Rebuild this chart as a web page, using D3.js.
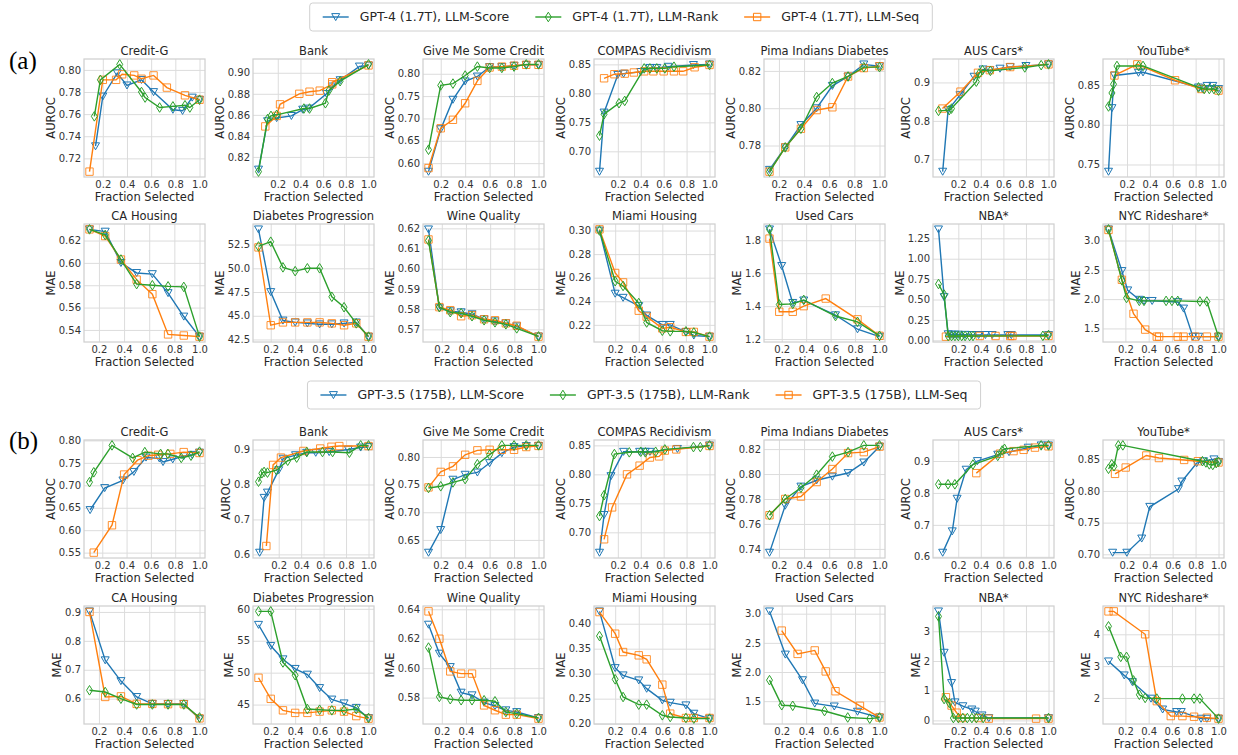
<!DOCTYPE html>
<html><head><meta charset="utf-8">
<script src="https://cdn.jsdelivr.net/npm/d3@7"></script>
<style>body{margin:0;background:#fff;} svg{display:block;font-family:"DejaVu Sans",sans-serif;}</style>
</head><body><svg id="c" width="1238" height="755"></svg>
<script>
// ---------- labels ----------
const namesGPT4 = ["GPT-4 (1.7T), LLM-Score","GPT-4 (1.7T), LLM-Rank","GPT-4 (1.7T), LLM-Seq"];
const namesGPT35 = ["GPT-3.5 (175B), LLM-Score","GPT-3.5 (175B), LLM-Rank","GPT-3.5 (175B), LLM-Seq"];
const titlesCls = ["Credit-G","Bank","Give Me Some Credit","COMPAS Recidivism","Pima Indians Diabetes","AUS Cars*","YouTube*"];
const titlesReg = ["CA Housing","Diabetes Progression","Wine Quality","Miami Housing","Used Cars","NBA*","NYC Rideshare*"];
const xTickLabels = ["0.2","0.4","0.6","0.8","1.0"];
const xLabel = "Fraction Selected";
const rowYLabels = ["AUROC","MAE","AUROC","MAE"];
const panelTags = ["(a)","(b)"];
const colors = ["#1f77b4","#2ca02c","#ff7f0e"];

// ---------- y tick labels ----------
const yt_a_cls = [["0.72","0.74","0.76","0.78","0.80"],["0.82","0.84","0.86","0.88","0.90"],["0.60","0.65","0.70","0.75","0.80"],["0.70","0.75","0.80","0.85"],["0.78","0.80","0.82"],["0.7","0.8","0.9"],["0.75","0.80","0.85"]];
const yt_a_reg = [["0.54","0.56","0.58","0.60","0.62"],["42.5","45.0","47.5","50.0","52.5"],["0.57","0.58","0.59","0.60","0.61","0.62"],["0.22","0.24","0.26","0.28","0.30"],["1.2","1.4","1.6","1.8"],["0.00","0.25","0.50","0.75","1.00","1.25"],["1.5","2.0","2.5","3.0"]];
const yt_b_cls = [["0.55","0.60","0.65","0.70","0.75","0.80"],["0.6","0.7","0.8","0.9"],["0.65","0.70","0.75","0.80"],["0.70","0.75","0.80","0.85"],["0.74","0.76","0.78","0.80","0.82"],["0.6","0.7","0.8","0.9"],["0.70","0.75","0.80","0.85"]];
const yt_b_reg = [["0.6","0.7","0.8","0.9"],["45","50","55","60"],["0.58","0.60","0.62","0.64"],["0.20","0.25","0.30","0.35","0.40"],["1.5","2.0","2.5","3.0"],["0","1","2","3"],["2","3","4"]];

// ---------- (a) GPT-4, classification (AUROC) ----------
const a_cg_score = [[0.14,0.731],[0.2,0.776],[0.32,0.797],[0.4,0.786],[0.52,0.791],[0.62,0.78],[0.78,0.764],[0.86,0.763],[0.94,0.775],[1.0,0.773]];
const a_cg_rank = [[0.13,0.758],[0.18,0.791],[0.34,0.805],[0.52,0.78],[0.55,0.775],[0.67,0.766],[0.78,0.767],[0.88,0.768],[0.92,0.766],[1.0,0.773]];
const a_cg_seq = [[0.09,0.708],[0.2,0.791],[0.31,0.791],[0.36,0.796],[0.46,0.795],[0.52,0.792],[0.62,0.795],[0.73,0.784],[0.88,0.777],[1.0,0.773]];
const a_bank_score = [[0.03,0.808],[0.11,0.854],[0.19,0.857],[0.32,0.859],[0.42,0.865],[0.47,0.866],[0.63,0.880],[0.68,0.887],[0.75,0.893],[0.92,0.906],[1.0,0.907]];
const a_bank_rank = [[0.03,0.806],[0.11,0.856],[0.14,0.859],[0.19,0.860],[0.43,0.866],[0.48,0.866],[0.62,0.871],[0.65,0.883],[0.75,0.892],[1.0,0.908]];
const a_bank_seq = [[0.09,0.849],[0.19,0.859],[0.22,0.870],[0.39,0.880],[0.48,0.882],[0.57,0.883],[0.68,0.889],[0.68,0.891],[1.0,0.907]];
const a_gmsc_score = [[0.1,0.581],[0.2,0.676],[0.3,0.742],[0.4,0.783],[0.5,0.794],[0.6,0.815],[0.7,0.815],[0.8,0.818],[0.9,0.82],[1.0,0.82]];
const a_gmsc_rank = [[0.1,0.630],[0.2,0.774],[0.3,0.778],[0.4,0.796],[0.5,0.816],[0.6,0.813],[0.7,0.813],[0.8,0.816],[0.9,0.821],[1.0,0.821]];
const a_gmsc_seq = [[0.1,0.589],[0.2,0.678],[0.3,0.697],[0.4,0.734],[0.5,0.784],[0.6,0.814],[0.7,0.816],[0.8,0.818],[0.9,0.82],[1.0,0.82]];
const a_compas_score = [[0.04,0.665],[0.08,0.767],[0.2,0.832],[0.25,0.834],[0.4,0.837],[0.48,0.844],[0.54,0.844],[0.64,0.846],[0.86,0.849],[1.0,0.85]];
const a_compas_rank = [[0.04,0.727],[0.08,0.764],[0.21,0.783],[0.26,0.787],[0.43,0.843],[0.48,0.843],[0.54,0.843],[0.61,0.843],[0.69,0.846],[1.0,0.849]];
const a_compas_seq = [[0.08,0.826],[0.17,0.833],[0.26,0.834],[0.34,0.836],[0.43,0.838],[0.51,0.838],[0.6,0.838],[0.69,0.838],[0.77,0.838],[0.87,0.845],[1.0,0.849]];
const a_pima_score = [[0.125,0.767],[0.25,0.779],[0.375,0.791],[0.5,0.800],[0.625,0.812],[0.75,0.817],[0.875,0.8235],[1.0,0.8225]];
const a_pima_rank = [[0.125,0.766],[0.25,0.779],[0.375,0.789],[0.5,0.806],[0.625,0.8135],[0.75,0.817],[0.875,0.822],[1.0,0.822]];
const a_pima_seq = [[0.125,0.766],[0.25,0.779],[0.375,0.789],[0.5,0.799],[0.625,0.8005],[0.75,0.817],[0.875,0.8215],[1.0,0.8225]];
const a_aus_score = [[0.062,0.668],[0.11,0.828],[0.215,0.867],[0.34,0.915],[0.42,0.934],[0.48,0.932],[0.57,0.936],[0.66,0.94],[0.8,0.943],[1.0,0.947]];
const a_aus_rank = [[0.025,0.826],[0.12,0.828],[0.14,0.832],[0.36,0.902],[0.385,0.923],[0.415,0.932],[0.485,0.93],[0.79,0.939],[0.935,0.945],[1.0,0.947]];
const a_aus_seq = [[0.06,0.832],[0.22,0.876],[0.375,0.925],[0.48,0.932],[0.66,0.94],[1.0,0.947]];
const a_yt_score = [[0.038,0.741],[0.068,0.821],[0.09,0.862],[0.30,0.8655],[0.34,0.866],[0.825,0.847],[0.86,0.845],[0.9,0.849],[0.95,0.849],[1.0,0.845]];
const a_yt_rank = [[0.038,0.823],[0.068,0.840],[0.082,0.851],[0.112,0.874],[0.30,0.874],[0.34,0.874],[0.825,0.847],[0.875,0.845],[0.92,0.845],[0.96,0.845],[1.0,0.843]];
const a_yt_seq = [[0.09,0.862],[0.29,0.876],[0.62,0.856],[0.85,0.845],[1.0,0.843]];

// ---------- (a) GPT-4, regression (MAE) ----------
const a_ca_score = [[0.125,0.630],[0.25,0.628],[0.375,0.600],[0.5,0.591],[0.625,0.590],[0.75,0.573],[0.875,0.552],[1.0,0.534]];
const a_ca_rank = [[0.125,0.630],[0.25,0.625],[0.375,0.603],[0.5,0.581],[0.625,0.580],[0.75,0.579],[0.875,0.5785],[1.0,0.534]];
const a_ca_seq = [[0.125,0.630],[0.25,0.624],[0.375,0.603],[0.5,0.585],[0.625,0.572],[0.75,0.536],[0.875,0.535],[1.0,0.534]];
const a_dia_score = [[0.1,54.1],[0.2,47.5],[0.3,44.5],[0.4,44.3],[0.5,44.2],[0.6,44.1],[0.7,44.1],[0.8,44.2],[0.9,44.3],[1.0,42.8]];
const a_dia_rank = [[0.1,52.3],[0.2,52.8],[0.3,50.1],[0.4,49.7],[0.5,50.0],[0.6,50.0],[0.7,47.0],[0.8,45.9],[0.9,44.2],[1.0,42.8]];
const a_dia_seq = [[0.1,52.2],[0.2,44.0],[0.3,44.3],[0.4,44.3],[0.5,44.3],[0.6,44.3],[0.7,44.2],[0.8,44.0],[0.9,44.2],[1.0,42.8]];
const a_wine_score = [[0.09,0.6195],[0.18,0.5805],[0.27,0.579],[0.36,0.5785],[0.45,0.5775],[0.55,0.575],[0.64,0.574],[0.73,0.573],[0.82,0.5715],[1.0,0.5665]];
const a_wine_rank = [[0.09,0.614],[0.18,0.581],[0.27,0.5785],[0.36,0.578],[0.45,0.5765],[0.55,0.5745],[0.64,0.5735],[0.73,0.5725],[0.82,0.5705],[1.0,0.5665]];
const a_wine_seq = [[0.09,0.6145],[0.18,0.581],[0.27,0.5795],[0.36,0.5765],[0.45,0.577],[0.55,0.575],[0.64,0.5745],[0.73,0.573],[0.82,0.5718],[1.0,0.5664]];
const a_miami_score = [[0.067,0.300],[0.2,0.2465],[0.267,0.243],[0.4,0.236],[0.467,0.228],[0.6,0.220],[0.667,0.220],[0.8,0.214],[0.867,0.211],[1.0,0.210]];
const a_miami_rank = [[0.067,0.300],[0.2,0.257],[0.267,0.253],[0.4,0.2385],[0.467,0.222],[0.6,0.215],[0.667,0.2145],[0.8,0.2145],[0.867,0.2135],[1.0,0.210]];
const a_miami_seq = [[0.067,0.301],[0.2,0.264],[0.267,0.256],[0.4,0.232],[0.467,0.227],[0.6,0.217],[0.667,0.218],[0.8,0.214],[0.867,0.214],[1.0,0.210]];
const a_used_score = [[0.1,1.866],[0.2,1.644],[0.29,1.42],[0.38,1.435],[0.64,1.345],[0.82,1.26],[1.0,1.215]];
const a_used_rank = [[0.1,1.866],[0.18,1.41],[0.29,1.414],[0.38,1.438],[0.64,1.34],[0.82,1.305],[1.0,1.22]];
const a_used_seq = [[0.1,1.81],[0.18,1.366],[0.29,1.366],[0.38,1.40],[0.56,1.446],[0.82,1.32],[1.0,1.22]];
const a_nba_score = [[0.024,1.36],[0.074,0.53],[0.11,0.075],[0.14,0.07],[0.17,0.07],[0.2,0.07],[0.26,0.068],[0.32,0.066],[0.38,0.066],[0.44,0.066],[0.5,0.066],[0.64,0.065],[0.67,0.065],[1.0,0.065]];
const a_nba_rank = [[0.024,0.69],[0.074,0.56],[0.11,0.053],[0.14,0.053],[0.17,0.053],[0.2,0.053],[0.23,0.053],[0.26,0.053],[0.3,0.053],[0.33,0.053],[0.95,0.055],[1.0,0.065]];
const a_nba_seq = [[0.09,0.045],[0.39,0.053],[0.53,0.053],[0.66,0.053],[0.68,0.053],[1.0,0.053]];
const a_nyc_score = [[0.055,3.19],[0.17,2.48],[0.22,2.15],[0.32,1.99],[0.36,1.97],[0.43,1.97],[0.65,1.95],[0.7,1.84],[0.78,1.36],[0.83,1.36],[1.0,1.36]];
const a_nyc_rank = [[0.055,3.19],[0.17,2.32],[0.21,2.02],[0.32,1.97],[0.36,1.97],[0.55,1.97],[0.6,1.97],[0.65,1.97],[0.84,1.96],[0.9,1.96],[1.0,1.36]];
const a_nyc_seq = [[0.055,3.18],[0.17,2.33],[0.27,1.75],[0.37,1.48],[0.47,1.36],[0.49,1.36],[0.65,1.36],[0.7,1.36],[0.8,1.36],[0.9,1.36],[1.0,1.36]];

// ---------- (b) GPT-3.5, classification (AUROC) ----------
const b_cg_score = [[0.1,0.645],[0.22,0.694],[0.37,0.711],[0.46,0.730],[0.56,0.762],[0.67,0.760],[0.7,0.752],[0.78,0.758],[0.87,0.765],[0.94,0.768],[1.0,0.773]];
const b_cg_rank = [[0.095,0.707],[0.13,0.729],[0.28,0.789],[0.45,0.761],[0.55,0.774],[0.68,0.770],[0.74,0.770],[0.85,0.761],[0.93,0.766],[1.0,0.775]];
const b_cg_seq = [[0.13,0.550],[0.28,0.611],[0.38,0.724],[0.49,0.756],[0.58,0.766],[0.66,0.768],[0.76,0.770],[0.87,0.774],[1.0,0.772]];
const b_bank_score = [[0.03,0.605],[0.07,0.762],[0.1,0.777],[0.2,0.841],[0.24,0.874],[0.35,0.884],[0.45,0.891],[0.53,0.891],[0.65,0.893],[0.82,0.900],[0.93,0.906],[1.0,0.908]];
const b_bank_rank = [[0.02,0.808],[0.05,0.832],[0.07,0.836],[0.1,0.834],[0.18,0.841],[0.28,0.868],[0.36,0.877],[0.45,0.893],[0.59,0.893],[0.68,0.893],[0.83,0.891],[0.93,0.912],[1.0,0.912]];
const b_bank_seq = [[0.09,0.624],[0.15,0.856],[0.22,0.877],[0.42,0.896],[0.57,0.903],[0.67,0.908],[0.74,0.910],[1.0,0.910]];
const b_gmsc_score = [[0.1,0.627],[0.2,0.668],[0.3,0.759],[0.4,0.768],[0.5,0.772],[0.6,0.789],[0.7,0.807],[0.8,0.818],[0.9,0.82],[1.0,0.82]];
const b_gmsc_rank = [[0.1,0.744],[0.2,0.747],[0.3,0.754],[0.4,0.760],[0.5,0.787],[0.6,0.804],[0.7,0.821],[0.8,0.821],[0.9,0.821],[1.0,0.821]];
const b_gmsc_seq = [[0.1,0.745],[0.2,0.773],[0.3,0.783],[0.4,0.804],[0.5,0.812],[0.6,0.813],[0.7,0.813],[0.8,0.813],[0.9,0.818],[1.0,0.82]];
const b_compas_score = [[0.04,0.665],[0.08,0.730],[0.14,0.797],[0.25,0.839],[0.39,0.839],[0.44,0.839],[0.48,0.839],[0.72,0.844],[1.0,0.85]];
const b_compas_rank = [[0.04,0.728],[0.08,0.764],[0.17,0.835],[0.3,0.838],[0.4,0.839],[0.44,0.838],[0.53,0.839],[0.61,0.843],[0.86,0.847],[0.92,0.847],[1.0,0.85]];
const b_compas_seq = [[0.08,0.688],[0.15,0.743],[0.28,0.80],[0.39,0.815],[0.48,0.829],[0.56,0.831],[0.61,0.841],[0.71,0.843],[1.0,0.849]];
const b_pima_score = [[0.125,0.737],[0.25,0.7747],[0.375,0.790],[0.5,0.795],[0.625,0.798],[0.75,0.8008],[0.875,0.8093],[1.0,0.822]];
const b_pima_rank = [[0.125,0.767],[0.25,0.780],[0.375,0.789],[0.5,0.7995],[0.625,0.814],[0.75,0.8176],[0.875,0.823],[1.0,0.823]];
const b_pima_seq = [[0.125,0.767],[0.25,0.780],[0.375,0.782],[0.5,0.7936],[0.625,0.804],[0.75,0.8168],[0.875,0.8176],[1.0,0.822]];
const b_aus_score = [[0.062,0.613],[0.147,0.680],[0.19,0.782],[0.27,0.873],[0.37,0.900],[0.55,0.920],[0.65,0.928],[0.82,0.942],[0.935,0.949],[1.0,0.949]];
const b_aus_rank = [[0.025,0.827],[0.11,0.827],[0.17,0.827],[0.33,0.889],[0.55,0.916],[0.59,0.933],[0.61,0.938],[0.935,0.949],[1.0,0.949]];
const b_aus_seq = [[0.36,0.862],[0.57,0.923],[0.69,0.931],[0.78,0.935],[0.88,0.942],[1.0,0.946]];
const b_yt_score = [[0.076,0.7026],[0.2,0.7026],[0.33,0.725],[0.4,0.775],[0.65,0.803],[0.68,0.815],[0.81,0.844],[0.87,0.847],[0.96,0.85],[1.0,0.846]];
const b_yt_rank = [[0.04,0.835],[0.068,0.842],[0.088,0.839],[0.126,0.872],[0.165,0.872],[0.86,0.847],[0.89,0.845],[0.92,0.842],[0.95,0.841],[0.98,0.844],[1.0,0.846]];
const b_yt_seq = [[0.097,0.827],[0.19,0.837],[0.37,0.856],[0.48,0.852],[0.7,0.849],[0.82,0.847],[1.0,0.845]];

// ---------- (b) GPT-3.5, regression (MAE) ----------
const b_ca_score = [[0.125,0.902],[0.25,0.733],[0.375,0.661],[0.5,0.606],[0.625,0.582],[0.75,0.582],[0.875,0.582],[1.0,0.531]];
const b_ca_rank = [[0.125,0.629],[0.25,0.623],[0.375,0.600],[0.5,0.580],[0.625,0.580],[0.75,0.580],[0.875,0.580],[1.0,0.535]];
const b_ca_seq = [[0.125,0.900],[0.25,0.606],[0.375,0.608],[0.5,0.582],[0.625,0.582],[0.75,0.581],[0.875,0.581],[1.0,0.532]];
const b_dia_score = [[0.1,57.5],[0.2,54.2],[0.3,52.1],[0.4,50.6],[0.5,49.7],[0.6,47.6],[0.7,45.8],[0.8,45.2],[0.9,44.5],[1.0,42.9]];
const b_dia_rank = [[0.1,59.6],[0.2,59.6],[0.3,51.6],[0.4,49.6],[0.5,44.3],[0.6,44.2],[0.7,44.1],[0.8,44.1],[0.9,44.3],[1.0,42.9]];
const b_dia_seq = [[0.1,49.2],[0.2,45.9],[0.3,44.1],[0.4,43.7],[0.5,43.7],[0.6,43.9],[0.7,44.1],[0.8,43.9],[0.9,43.2],[1.0,42.8]];
const b_wine_score = [[0.09,0.6296],[0.18,0.6099],[0.27,0.6008],[0.36,0.5834],[0.45,0.5816],[0.55,0.5766],[0.64,0.5743],[0.73,0.5714],[0.82,0.5702],[1.0,0.5662]];
const b_wine_rank = [[0.09,0.614],[0.18,0.5805],[0.27,0.5789],[0.36,0.5782],[0.45,0.5782],[0.55,0.5782],[0.64,0.5775],[0.73,0.5702],[0.82,0.5691],[1.0,0.5662]];
const b_wine_seq = [[0.09,0.6386],[0.18,0.620],[0.27,0.5978],[0.36,0.5963],[0.45,0.5963],[0.55,0.5747],[0.64,0.5714],[0.73,0.5684],[0.82,0.5684],[1.0,0.5657]];
const b_miami_score = [[0.067,0.4247],[0.2,0.3113],[0.267,0.2967],[0.4,0.2867],[0.467,0.270],[0.6,0.2467],[0.667,0.242],[0.8,0.2367],[0.867,0.220],[1.0,0.210]];
const b_miami_rank = [[0.067,0.3753],[0.2,0.2887],[0.267,0.2533],[0.4,0.238],[0.467,0.238],[0.6,0.2167],[0.667,0.2133],[0.8,0.2113],[0.867,0.210],[1.0,0.210]];
const b_miami_seq = [[0.067,0.4233],[0.2,0.380],[0.267,0.3433],[0.4,0.3367],[0.467,0.3287],[0.6,0.278],[0.667,0.220],[0.8,0.2113],[0.867,0.2113],[1.0,0.2113]];
const b_used_score = [[0.1,3.04],[0.23,2.30],[0.37,1.86],[0.47,1.46],[0.63,1.41],[0.82,1.32],[1.0,1.22]];
const b_used_rank = [[0.1,1.86],[0.2,1.43],[0.29,1.42],[0.55,1.33],[0.74,1.22],[0.92,1.20],[1.0,1.22]];
const b_used_seq = [[0.2,2.71],[0.33,2.31],[0.47,2.37],[0.56,2.01],[0.64,1.67],[0.84,1.42],[1.0,1.22]];
const b_nba_score = [[0.024,3.67],[0.074,2.28],[0.14,1.26],[0.17,0.61],[0.24,0.48],[0.32,0.37],[0.35,0.30],[0.41,0.17],[0.47,0.08],[1.0,0.08]];
const b_nba_rank = [[0.024,3.5],[0.074,0.72],[0.12,0.59],[0.156,0.08],[0.2,0.08],[0.24,0.08],[0.28,0.08],[0.32,0.08],[0.36,0.08],[0.42,0.08],[1.0,0.08]];
const b_nba_seq = [[0.09,0.78],[0.14,0.50],[0.185,0.26],[0.23,0.08],[0.38,0.08],[0.47,0.06],[0.89,0.06],[1.0,0.06]];
const b_nyc_score = [[0.055,3.15],[0.19,2.71],[0.26,2.50],[0.42,1.98],[0.52,1.64],[0.64,1.56],[0.68,1.56],[0.85,1.35],[0.9,1.35],[1.0,1.35]];
const b_nyc_rank = [[0.055,4.25],[0.16,3.29],[0.21,3.29],[0.27,2.55],[0.32,2.10],[0.37,2.00],[0.47,1.98],[0.69,1.98],[0.79,1.98],[0.84,1.98],[1.0,1.35]];
const b_nyc_seq = [[0.055,4.72],[0.1,4.72],[0.37,4.00],[0.47,1.90],[0.59,1.43],[0.69,1.43],[0.79,1.41],[0.9,1.38],[1.0,1.35]];

// ---------- assemble ----------
const rowsData = [
  [[a_cg_score,a_cg_rank,a_cg_seq],[a_bank_score,a_bank_rank,a_bank_seq],[a_gmsc_score,a_gmsc_rank,a_gmsc_seq],[a_compas_score,a_compas_rank,a_compas_seq],[a_pima_score,a_pima_rank,a_pima_seq],[a_aus_score,a_aus_rank,a_aus_seq],[a_yt_score,a_yt_rank,a_yt_seq]],
  [[a_ca_score,a_ca_rank,a_ca_seq],[a_dia_score,a_dia_rank,a_dia_seq],[a_wine_score,a_wine_rank,a_wine_seq],[a_miami_score,a_miami_rank,a_miami_seq],[a_used_score,a_used_rank,a_used_seq],[a_nba_score,a_nba_rank,a_nba_seq],[a_nyc_score,a_nyc_rank,a_nyc_seq]],
  [[b_cg_score,b_cg_rank,b_cg_seq],[b_bank_score,b_bank_rank,b_bank_seq],[b_gmsc_score,b_gmsc_rank,b_gmsc_seq],[b_compas_score,b_compas_rank,b_compas_seq],[b_pima_score,b_pima_rank,b_pima_seq],[b_aus_score,b_aus_rank,b_aus_seq],[b_yt_score,b_yt_rank,b_yt_seq]],
  [[b_ca_score,b_ca_rank,b_ca_seq],[b_dia_score,b_dia_rank,b_dia_seq],[b_wine_score,b_wine_rank,b_wine_seq],[b_miami_score,b_miami_rank,b_miami_seq],[b_used_score,b_used_rank,b_used_seq],[b_nba_score,b_nba_rank,b_nba_seq],[b_nyc_score,b_nyc_rank,b_nyc_seq]]
];
const rowsTicks = [yt_a_cls, yt_a_reg, yt_b_cls, yt_b_reg];
const rowsTitles = [titlesCls, titlesReg, titlesCls, titlesReg];

// ---------- layout ----------
const colLeft = [84, 253, 423, 594, 764, 933, 1103];
const rowTop = [59, 224, 440, 606];
const PW = 121, PH = 118;
const markerPaths = [
  "M-4,-3.4L4,-3.4L0,3.6Z",
  "M0,-4.8L3,0L0,4.8L-3,0Z",
  "M-3.7,-3.7h7.4v7.4h-7.4Z"
];
const drawOrder = [0, 2, 1];

const svg = d3.select("#c");

function drawPanel(series, ticks, title, ylabel, left, top) {
  const g = svg.append("g");
  const all = series.flat();
  const xe = d3.extent(all, d => d[0]), ye = d3.extent(all, d => d[1]);
  const xm = (xe[1] - xe[0]) * 0.05, ym = (ye[1] - ye[0]) * 0.05;
  const x = d3.scaleLinear([xe[0] - xm, xe[1] + xm], [left, left + PW]);
  const y = d3.scaleLinear([ye[0] - ym, ye[1] + ym], [top + PH, top]);
  const xd = x.domain(), yd = y.domain();
  const xt = xTickLabels.map(Number).filter(v => v >= xd[0] && v <= xd[1]);
  const ytl = ticks.filter(s => +s >= yd[0] - 1e-9 && +s <= yd[1] + 1e-9);

  const xa = g.append("g").attr("transform", `translate(0,${top + PH})`)
    .call(d3.axisBottom(x).tickValues(xt).tickFormat(d3.format(".1f")).tickSize(-PH).tickPadding(4));
  const ya = g.append("g").attr("transform", `translate(${left},0)`)
    .call(d3.axisLeft(y).tickValues(ytl.map(Number)).tickFormat((d, i) => ytl[i]).tickSize(-PW).tickPadding(3));
  [xa, ya].forEach(a => {
    a.select(".domain").remove();
    a.selectAll(".tick line").attr("stroke", "#dcdcdc").attr("stroke-width", 1);
    a.selectAll(".tick text").attr("fill", "#333").attr("font-size", 10).attr("font-family", "DejaVu Sans");
  });
  g.append("rect").attr("x", left).attr("y", top).attr("width", PW).attr("height", PH)
    .attr("fill", "none").attr("stroke", "#d0d0d0").attr("stroke-width", 1.25);

  const line = d3.line().x(d => x(d[0])).y(d => y(d[1]));
  drawOrder.forEach(i => {
    const s = series[i];
    g.append("path").datum(s).attr("d", line).attr("fill", "none")
      .attr("stroke", colors[i]).attr("stroke-width", 1.4);
    g.selectAll(null).data(s).enter().append("path")
      .attr("d", markerPaths[i])
      .attr("transform", d => `translate(${x(d[0])},${y(d[1])})`)
      .attr("fill", "none").attr("stroke", colors[i]).attr("stroke-width", 1)
      .attr("stroke-opacity", i === 2 ? 0.85 : 1);
  });

  g.append("text").attr("x", left + PW / 2).attr("y", top - 4).attr("text-anchor", "middle")
    .attr("font-size", 11.5).attr("fill", "#262626").text(title);
  g.append("text").attr("x", left + PW / 2).attr("y", top + PH + 24).attr("text-anchor", "middle")
    .attr("font-size", 11.5).attr("fill", "#262626").text(xLabel);
  let minX = 0;
  ya.selectAll(".tick text").each(function () {
    const b = this.getBBox();
    minX = Math.min(minX, b.x);
  });
  g.append("text").attr("transform", `translate(${left + minX - 4},${top + PH / 2}) rotate(-90)`)
    .attr("text-anchor", "middle").attr("font-size", 11.5).attr("fill", "#262626").text(ylabel);
}

rowsData.forEach((row, r) => {
  row.forEach((series, c) => {
    drawPanel(series, rowsTicks[r][c], rowsTitles[r][c], rowYLabels[r], colLeft[c], rowTop[r]);
  });
});

function legend(cx, cy, names) {
  const g = svg.append("g");
  const rect = g.append("rect");
  const items = g.append("g");
  const sp = 26;
  let xPos = 0;
  names.forEach((n, i) => {
    const it = items.append("g").attr("transform", `translate(${xPos},0)`);
    it.append("line").attr("x1", 0).attr("x2", 26).attr("y1", 0).attr("y2", 0)
      .attr("stroke", colors[i]).attr("stroke-width", 1.4);
    it.append("path").attr("d", markerPaths[i]).attr("transform", "translate(13,0)")
      .attr("fill", "none").attr("stroke", colors[i]).attr("stroke-width", 1);
    const t = it.append("text").attr("x", 37).attr("y", 0).attr("dy", "0.35em")
      .attr("font-size", 12.5).attr("fill", "#262626").text(n);
    xPos += 37 + t.node().getComputedTextLength() + sp;
  });
  const totalW = xPos - sp, pad = 13, bw = totalW + 2 * pad;
  rect.attr("x", cx - bw / 2).attr("y", cy - 14).attr("width", bw).attr("height", 28)
    .attr("rx", 3).attr("fill", "#fff").attr("stroke", "#d0d0d0").attr("stroke-width", 1);
  items.attr("transform", `translate(${cx - bw / 2 + pad},${cy})`);
}
legend(621, 17, namesGPT4);
legend(644, 395, namesGPT35);

svg.append("text").attr("x", 9).attr("y", 69).attr("font-family", "'Liberation Serif',serif")
  .attr("font-size", 25).attr("fill", "#000").text(panelTags[0]);
svg.append("text").attr("x", 9).attr("y", 449).attr("font-family", "'Liberation Serif',serif")
  .attr("font-size", 25).attr("fill", "#000").text(panelTags[1]);
</script></body></html>
